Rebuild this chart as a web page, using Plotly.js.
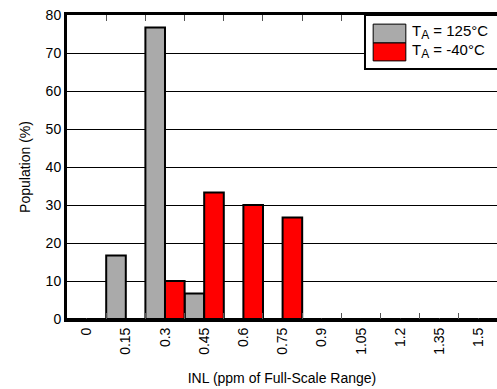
<!DOCTYPE html>
<html>
<head>
<meta charset="utf-8">
<script src="https://cdn.plot.ly/plotly-3.0.1.min.js"></script>
<style>html,body{margin:0;padding:0;background:#fff;}#chart{width:497px;height:389px;}</style>
</head>
<body>
<div id="chart"></div>
<script>
const categories = ["0","0.15","0.3","0.45","0.6","0.75","0.9","1.05","1.2","1.35","1.5"];
const hot125 = [0, 16.7, 76.7, 6.7, 0, 0, 0, 0, 0, 0, 0];
const cold40 = [0, 0, 10, 33.3, 30, 26.7, 0, 0, 0, 0, 0];
const seriesNames = ["T<sub><span style=\"font-size:12px\">A</span></sub> = 125°C", "T<sub><span style=\"font-size:12px\">A</span></sub> = -40°C"];
const seriesColors = ["#aaaaaa", "#ff0000"];

const font = {family: "Liberation Sans, Arial, sans-serif", size: 14, color: "#000"};

const traces = [hot125, cold40].map((vals, i) => ({
  type: "bar",
  x: categories,
  y: vals,
  name: seriesNames[i],
  marker: {color: seriesColors[i], line: {color: "#000", width: 2}},
  showlegend: false
}));

// custom legend (box, swatches, labels)
const shapes = [
  {type: "rect", xref: "paper", yref: "paper", x0: 0.693, x1: 1.05, y0: 0.822, y1: 1.0,
   line: {color: "#000", width: 2}, fillcolor: "#fff", layer: "above"},
  {type: "rect", xref: "paper", yref: "paper", x0: 0.712, x1: 0.788, y0: 0.908, y1: 0.970,
   line: {color: "#000", width: 1}, fillcolor: seriesColors[0], layer: "above"},
  {type: "rect", xref: "paper", yref: "paper", x0: 0.712, x1: 0.788, y0: 0.849, y1: 0.908,
   line: {color: "#000", width: 1}, fillcolor: seriesColors[1], layer: "above"}
];
const annotations = [
  {xref: "paper", yref: "paper", x: 0.798, y: 0.943, xanchor: "left", yanchor: "middle",
   text: seriesNames[0], showarrow: false, font: {family: font.family, size: 15, color: "#000"}},
  {xref: "paper", yref: "paper", x: 0.798, y: 0.882, xanchor: "left", yanchor: "middle",
   text: seriesNames[1], showarrow: false, font: {family: font.family, size: 15, color: "#000"}}
];

const layout = {
  width: 497, height: 389,
  margin: {l: 67, r: 0, t: 15, b: 70},
  paper_bgcolor: "#fff", plot_bgcolor: "#fff",
  font: font,
  barmode: "group", bargap: 0, bargroupgap: 0,
  xaxis: {
    type: "category",
    range: [-0.5, 10.47],
    tickson: "boundaries",
    ticks: "inside", ticklen: 6, tickcolor: "#555", tickwidth: 1,
    tickangle: -90,
    showline: true, linecolor: "#000", linewidth: 3, mirror: "ticks",
    showgrid: false, zeroline: false,
    tickfont: {family: font.family, size: 14, color: "#000"},
    title: {text: "INL (ppm of Full-Scale Range)", font: {family: font.family, size: 14, color: "#000"}, standoff: 20}
  },
  yaxis: {
    range: [0, 80], dtick: 10, tick0: 0,
    ticks: "",
    showline: true, linecolor: "#000", linewidth: 3, mirror: true,
    showgrid: true, gridcolor: "#000", gridwidth: 1, zeroline: false,
    tickfont: {family: font.family, size: 14, color: "#000"},
    title: {text: "Population (%)", font: {family: font.family, size: 14, color: "#000"}, standoff: 12}
  },
  shapes: shapes,
  annotations: annotations
};

Plotly.newPlot("chart", traces, layout, {displayModeBar: false, staticPlot: true});
</script>
</body>
</html>
